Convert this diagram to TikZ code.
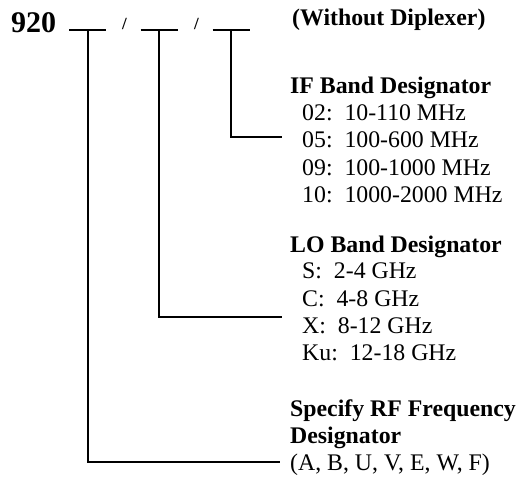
\documentclass[tikz,border=0pt]{standalone}
\usepackage{fontspec}
\setmainfont{Liberation Serif}
\newcommand\bodysize{\fontsize{23.8}{27}\selectfont}
\begin{document}
\begin{tikzpicture}[x=1pt, y=-1pt,
    wire/.style={line width=2pt},
    title/.style={anchor=base west, inner sep=0pt, font=\bodysize\bfseries},
    entry/.style={anchor=base west, inner sep=0pt, font=\bodysize},
    slash/.style={anchor=base west, inner sep=0pt, font=\fontsize{17}{18}\selectfont\bfseries}]
    \useasboundingbox (0,0) rectangle (522,477);
    % part number with its three blanks
    \node[title, font=\fontsize{30}{30}\selectfont\bfseries] (num) at (11,32) {920};
    \node[slash] (sl1) at (122,29) {/};
    \node[slash] (sl2) at (194,29) {/};
    \node[title] (note) at (292,25) {(Without Diplexer)};
    \coordinate (rf) at (87.5,30);
    \coordinate (lo) at (159,30);
    \coordinate (if) at (231,30);
    \foreach \c in {rf,lo,if}
      \draw[wire] ([xshift=-18.5pt]\c) -- ([xshift=18.5pt]\c);
    % IF band
    \node[title] (iftitle) at (290,93) {IF Band Designator};
    \node[entry] (if02) at (302,120) {02:\ \ 10-110 MHz};
    \node[entry] (if05) at (302,147) {05:\ \ 100-600 MHz};
    \node[entry] (if09) at (302,175) {09:\ \ 100-1000 MHz};
    \node[entry] (if10) at (302,202) {10:\ \ 1000-2000 MHz};
    % LO band
    \node[title] (lotitle) at (290,252) {LO Band Designator};
    \node[entry] (loS) at (302,278) {S:\ \ 2-4 GHz};
    \node[entry] (loC) at (302,306) {C:\ \ 4-8 GHz};
    \node[entry] (loX) at (302,333) {X:\ \ 8-12 GHz};
    \node[entry] (loKu) at (302,360) {Ku:\ \ 12-18 GHz};
    % RF frequency
    \node[title] (rftitle) at (290,416) {Specify RF Frequency};
    \node[title] (rftitle2) at (290,443) {Designator};
    \node[entry] (rfcodes) at (290,470) {(A, B, U, V, E, W, F)};
    % connectors
    \coordinate (ifend) at (282,137);
    \coordinate (loend) at (282,317);
    \coordinate (rfend) at (280,462);
    \draw[wire] (if) |- (ifend);
    \draw[wire] (lo) |- (loend);
    \draw[wire] (rf) |- (rfend);
\end{tikzpicture}
\end{document}
